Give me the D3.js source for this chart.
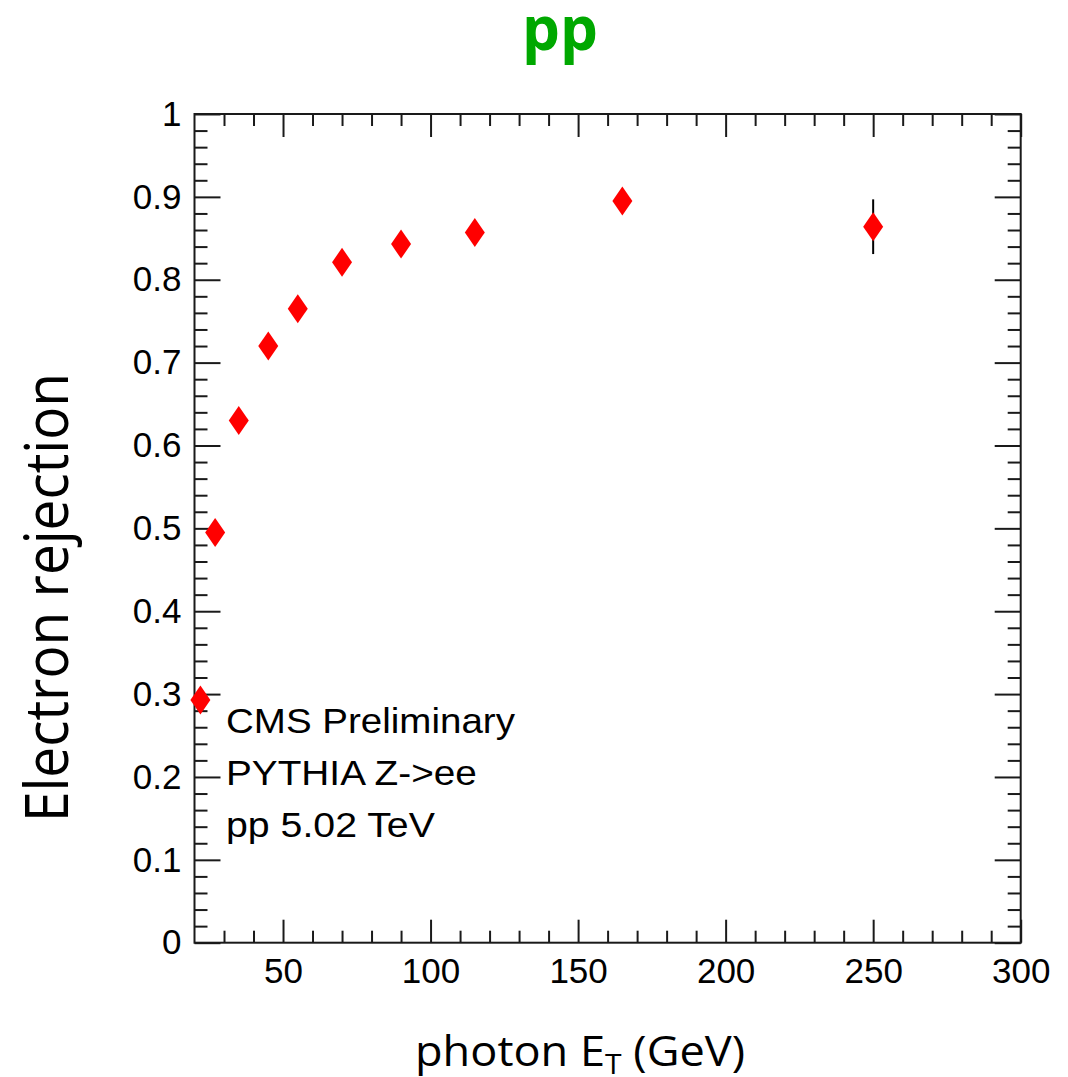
<!DOCTYPE html>
<html><head><meta charset="utf-8">
<script src="https://cdn.jsdelivr.net/npm/d3@7"></script>
<style>body{margin:0;background:#fff} svg{display:block}</style>
</head><body>
<svg id="c" width="1068" height="1077"></svg>
<script>
// ---- data ----
const photonEt = [22, 27, 35, 45, 55, 70, 90, 115, 165, 250];
const rejection = [0.293, 0.495, 0.630, 0.720, 0.765, 0.821, 0.843, 0.857, 0.895, 0.864];
const rejectionErr = [0.012, 0.010, 0.008, 0.007, 0.007, 0.007, 0.008, 0.009, 0.012, 0.033];
const xMajorTicks = [50, 100, 150, 200, 250, 300];
const xTickLabels = ["50", "100", "150", "200", "250", "300"];
const yMajorTicks = [0, 0.1, 0.2, 0.3, 0.4, 0.5, 0.6, 0.7, 0.8, 0.9, 1];
const yTickLabels = ["0", "0.1", "0.2", "0.3", "0.4", "0.5", "0.6", "0.7", "0.8", "0.9", "1"];
const xMinorTicks = [30, 40, 60, 70, 80, 90, 110, 120, 130, 140, 160, 170, 180, 190, 210, 220, 230, 240, 260, 270, 280, 290];
const yMinorTicks = d3.range(1, 50).map(i => i * 0.02).filter(v => Math.abs(v * 10 - Math.round(v * 10)) > 1e-6);
const annotations = ["CMS Preliminary", "PYTHIA Z->ee", "pp 5.02 TeV"];
const titleText = "pp";
const yTitle = "Electron rejection";

// ---- layout ----
const svg = d3.select("#c");
const L = 194.5, R = 1020.7, T = 114, B = 942.7;
const x = d3.scaleLinear().domain([20, 300]).range([L, R]);
const y = d3.scaleLinear().domain([0, 1]).range([B, T]);
const axisColor = "#1a1a1a";
const rootFont = "'Liberation Sans', Arial, Helvetica, sans-serif";
const titleFont = "'Open Sans', sans-serif";

svg.append("rect").attr("width", 1068).attr("height", 1077).attr("fill", "#fff");

function styleAxis(g) {
  g.select(".domain").remove();
  g.selectAll(".tick line").attr("stroke", axisColor).attr("stroke-width", 2);
  g.attr("font-family", rootFont).attr("font-size", 35);
  g.selectAll(".tick text").attr("fill", "#000");
}

// bottom
svg.append("g").attr("transform", `translate(0,${B})`)
  .call(d3.axisBottom(x).tickValues(xMajorTicks).tickSizeInner(-23).tickSizeOuter(0).tickPadding(15)
    .tickFormat((d, i) => xTickLabels[i])).call(styleAxis);
svg.append("g").attr("transform", `translate(0,${B})`)
  .call(d3.axisBottom(x).tickValues(xMinorTicks).tickSizeInner(-12).tickSizeOuter(0).tickFormat("")).call(styleAxis);
// top
svg.append("g").attr("transform", `translate(0,${T})`)
  .call(d3.axisTop(x).tickValues(xMajorTicks).tickSizeInner(-23).tickSizeOuter(0).tickFormat("")).call(styleAxis);
svg.append("g").attr("transform", `translate(0,${T})`)
  .call(d3.axisTop(x).tickValues(xMinorTicks).tickSizeInner(-12).tickSizeOuter(0).tickFormat("")).call(styleAxis);
// left
svg.append("g").attr("transform", `translate(${L},0)`)
  .call(d3.axisLeft(y).tickValues(yMajorTicks).tickSizeInner(-26).tickSizeOuter(0).tickPadding(13)
    .tickFormat((d, i) => yTickLabels[i])).call(styleAxis);
svg.append("g").attr("transform", `translate(${L},0)`)
  .call(d3.axisLeft(y).tickValues(yMinorTicks).tickSizeInner(-13).tickSizeOuter(0).tickFormat("")).call(styleAxis);
// right
svg.append("g").attr("transform", `translate(${R},0)`)
  .call(d3.axisRight(y).tickValues(yMajorTicks).tickSizeInner(-26).tickSizeOuter(0).tickFormat("")).call(styleAxis);
svg.append("g").attr("transform", `translate(${R},0)`)
  .call(d3.axisRight(y).tickValues(yMinorTicks).tickSizeInner(-13).tickSizeOuter(0).tickFormat("")).call(styleAxis);

// frame
svg.append("rect").attr("x", L).attr("y", T).attr("width", R - L).attr("height", B - T)
  .attr("fill", "none").attr("stroke", axisColor).attr("stroke-width", 2);

// data
const pts = photonEt.map((d, i) => ({ x: d, y: rejection[i], e: rejectionErr[i] }));
svg.append("g").selectAll("line").data(pts).join("line")
  .attr("x1", d => x(d.x)).attr("x2", d => x(d.x))
  .attr("y1", d => y(d.y - d.e)).attr("y2", d => y(d.y + d.e))
  .attr("stroke", "#000").attr("stroke-width", 2);
const diamond = "M0,-14.5L10,0L0,14.5L-10,0Z";
svg.append("g").selectAll("path").data(pts).join("path")
  .attr("d", diamond)
  .attr("transform", d => `translate(${x(d.x)},${y(d.y)})`)
  .attr("fill", "#ff0000");

// helper to fit text width
function fit(sel, target, base) {
  const w = sel.node().getComputedTextLength();
  sel.attr("transform", base + ` scale(${target / w},1)`);
}

// annotations
const annWidths = [289, 251, 209];
annotations.forEach((t, i) => {
  const tx = svg.append("text").attr("x", 0).attr("y", 0)
    .attr("font-family", rootFont).attr("font-size", 35).attr("fill", "#000").text(t);
  fit(tx, annWidths[i], `translate(226,${733 + i * 52})`);
});

// title
svg.append("text").attr("x", 560).attr("y", 50).attr("text-anchor", "middle")
  .attr("font-family", titleFont).attr("font-weight", 700).attr("font-size", 60)
  .attr("fill", "#00a800").text(titleText);

// x title
const xt = svg.append("text").attr("x", 0).attr("y", 0)
  .attr("font-family", titleFont).attr("font-size", 42).attr("fill", "#000");
xt.append("tspan").text("photon E");
xt.append("tspan").attr("font-size", 28).attr("dy", 8).text("T");
xt.append("tspan").attr("dy", -8).text(" (GeV)");
{
  const w = xt.node().getBBox().width;
  xt.attr("transform", `translate(415,1066) scale(${330 / w},1)`);
}

// y title
const yt = svg.append("text").attr("x", 0).attr("y", 0)
  .attr("font-family", titleFont).attr("font-size", 60).attr("fill", "#000").text(yTitle);
fit(yt, 449, `translate(68,822) rotate(-90)`);
</script>
</body></html>
